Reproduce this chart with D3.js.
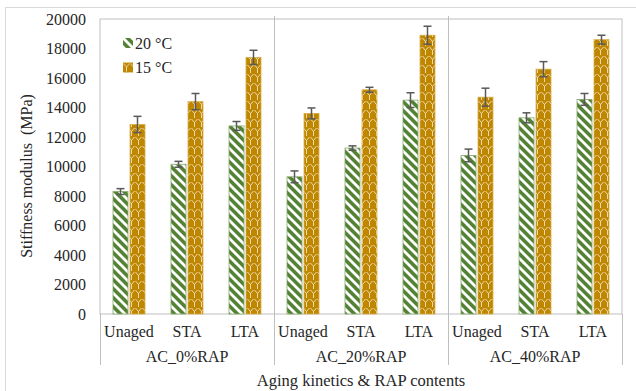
<!DOCTYPE html>
<html>
<head>
<meta charset="utf-8">
<script src="https://cdnjs.cloudflare.com/ajax/libs/d3/7.8.5/d3.min.js"></script>
<style>
  body { margin: 0; background: #fff; }
</style>
</head>
<body>
<div id="chart"></div>
<script>
"use strict";

var groups = ["AC_0%RAP", "AC_20%RAP", "AC_40%RAP"];
var agings = ["Unaged", "STA", "LTA"];
var seriesNames = ["20 °C", "15 °C"];
var yTicks = [0, 2000, 4000, 6000, 8000, 10000, 12000, 14000, 16000, 18000, 20000];

/* stiffness (MPa), ordered group by group: Unaged, STA, LTA */
var values20 = [8300, 10150, 12750, 9300, 11250, 14500, 10750, 13300, 14550];
var values15 = [12850, 14400, 17400, 13600, 15200, 18900, 14700, 16600, 18600];
var errors20 = [200, 200, 300, 400, 150, 500, 430, 340, 400];
var errors15 = [550, 550, 480, 370, 170, 610, 610, 510, 300];

var colors = ["#548235", "#BF8600"];
var serif = "'Liberation Serif', 'Times New Roman', 'DejaVu Serif', serif";

var width = 636, height = 391;
var margin = {top: 19, right: 14, bottom: 77, left: 100};
var w = width - margin.left - margin.right,
    h = height - margin.top - margin.bottom;

var svg = d3.select("#chart").append("svg")
  .attr("width", width)
  .attr("height", height);

// patterns for the two series
var defs = svg.append("defs");
var p1 = defs.append("pattern")
  .attr("id", "pat0").attr("patternUnits", "userSpaceOnUse")
  .attr("width", 9).attr("height", 9);
p1.append("rect").attr("width", 9).attr("height", 9).attr("fill", colors[0]);
p1.append("path")
  .attr("d", "M-3,-3 L12,12 M-3,6 L3,12 M6,-3 L12,3")
  .attr("stroke", "#fff").attr("stroke-width", 2.8);

var p2 = defs.append("pattern")
  .attr("id", "pat1").attr("patternUnits", "userSpaceOnUse")
  .attr("width", 7).attr("height", 9);
p2.append("rect").attr("width", 7).attr("height", 9).attr("fill", colors[1]);
p2.append("path")
  .attr("d", "M3.5,4.5 L3.5,9 M3.5,4.5 L0.5,1 M3.5,4.5 L6.5,1")
  .attr("fill", "none")
  .attr("stroke", "#fff").attr("stroke-width", 0.8).attr("stroke-opacity", 0.85);

// outer chart border
svg.append("rect")
  .attr("x", 5.5).attr("y", 7.5)
  .attr("width", 700).attr("height", 500)
  .attr("fill", "none").attr("stroke", "#D9D9D9");

var g = svg.append("g")
  .attr("transform", "translate(" + margin.left + "," + margin.top + ")");

// scales
var cats = [];
groups.forEach(function(gr) {
  agings.forEach(function(a) { cats.push(gr + "|" + a); });
});

var x0 = d3.scaleBand().domain(cats).range([0, w]);
var xg = d3.scaleBand().domain(groups).range([0, w]);
var y = d3.scaleLinear().domain([0, 20000]).range([h, 0]);

var yAxis = d3.axisLeft(y).tickValues(yTicks).tickSize(0).tickPadding(14)
  .tickFormat(d3.format("d"));

var ya = g.append("g").attr("class", "y axis").call(yAxis)
  .attr("font-family", serif);
ya.select(".domain").remove();
ya.selectAll("text").style("font-size", "16px").style("font-family", serif).attr("fill", "#262626");

// plot frame
g.append("rect")
  .attr("x", 0).attr("y", 0).attr("width", w).attr("height", h)
  .attr("fill", "none").attr("stroke", "#BFBFBF");

// bars
var data = [];
cats.forEach(function(c, i) {
  data.push({cat: c, s: 0, v: values20[i], e: errors20[i]});
  data.push({cat: c, s: 1, v: values15[i], e: errors15[i]});
});

function barX(d) {
  var c = x0(d.cat) + x0.bandwidth() / 2;
  return d.s === 0 ? c - 16 : c + 1;
}
var bw = 15;

g.selectAll(".bar").data(data).enter().append("rect")
  .attr("class", "bar")
  .attr("x", barX)
  .attr("y", function(d) { return y(d.v); })
  .attr("width", bw)
  .attr("height", function(d) { return h - y(d.v); })
  .attr("fill", function(d) { return "url(#pat" + d.s + ")"; })
  .attr("stroke", function(d) { return d.s === 0 ? "#86A86A" : "#D9AE4A"; })
  .attr("stroke-width", 0.8);

// error bars
var eb = g.selectAll(".err").data(data).enter().append("g")
  .attr("class", "err")
  .attr("stroke", "#595959").attr("stroke-width", 1.5);
eb.append("line")
  .attr("x1", function(d) { return barX(d) + bw / 2; })
  .attr("x2", function(d) { return barX(d) + bw / 2; })
  .attr("y1", function(d) { return y(d.v + d.e); })
  .attr("y2", function(d) { return y(d.v - d.e); });
[1, -1].forEach(function(sign) {
  eb.append("line")
    .attr("x1", function(d) { return barX(d) + bw / 2 - 4; })
    .attr("x2", function(d) { return barX(d) + bw / 2 + 4; })
    .attr("y1", function(d) { return y(d.v + sign * d.e); })
    .attr("y2", function(d) { return y(d.v + sign * d.e); });
});

// group separators and category axis lines
g.selectAll(".sep").data(groups.slice(1)).enter().append("line")
  .attr("x1", function(d) { return xg(d) + 0.5; })
  .attr("x2", function(d) { return xg(d) + 0.5; })
  .attr("y1", -3).attr("y2", h + 51)
  .attr("stroke", "#BFBFBF");
[0, w].forEach(function(xx) {
  g.append("line")
    .attr("x1", xx + 0.5).attr("x2", xx + 0.5)
    .attr("y1", h).attr("y2", h + 51)
    .attr("stroke", "#BFBFBF");
});

function label(sel) {
  sel.style("font-size", "16px").style("font-family", serif).attr("fill", "#262626");
}

g.selectAll(".catlabel").data(cats).enter().append("text")
  .attr("x", function(d) { return x0(d) + x0.bandwidth() / 2; })
  .attr("y", h + 23)
  .attr("text-anchor", "middle")
  .call(label)
  .text(function(d) { return d.split("|")[1]; });

g.selectAll(".grouplabel").data(groups).enter().append("text")
  .attr("x", function(d) { return xg(d) + xg.bandwidth() / 2; })
  .attr("y", h + 48)
  .attr("text-anchor", "middle")
  .call(label)
  .text(function(d) { return d; });

// axis titles
svg.append("text")
  .attr("x", margin.left + w / 2).attr("y", 386)
  .attr("text-anchor", "middle")
  .call(label)
  .style("font-size", "16.5px")
  .text("Aging kinetics & RAP contents");

svg.append("text")
  .attr("transform", "translate(32,176) rotate(-90)")
  .attr("text-anchor", "middle")
  .attr("xml:space", "preserve")
  .call(label)
  .text("Stiffness modulus  (MPa)");

// legend
var leg = svg.selectAll(".legend").data(seriesNames).enter().append("g")
  .attr("class", "legend")
  .attr("transform", function(d, i) { return "translate(123," + (38 + i * 24.5) + ")"; });
leg.append("rect")
  .attr("width", 10).attr("height", 10)
  .attr("fill", function(d, i) { return "url(#pat" + i + ")"; });
leg.append("text")
  .attr("x", 12).attr("y", 10.5)
  .call(label)
  .text(function(d) { return d; });
</script>
</body>
</html>
